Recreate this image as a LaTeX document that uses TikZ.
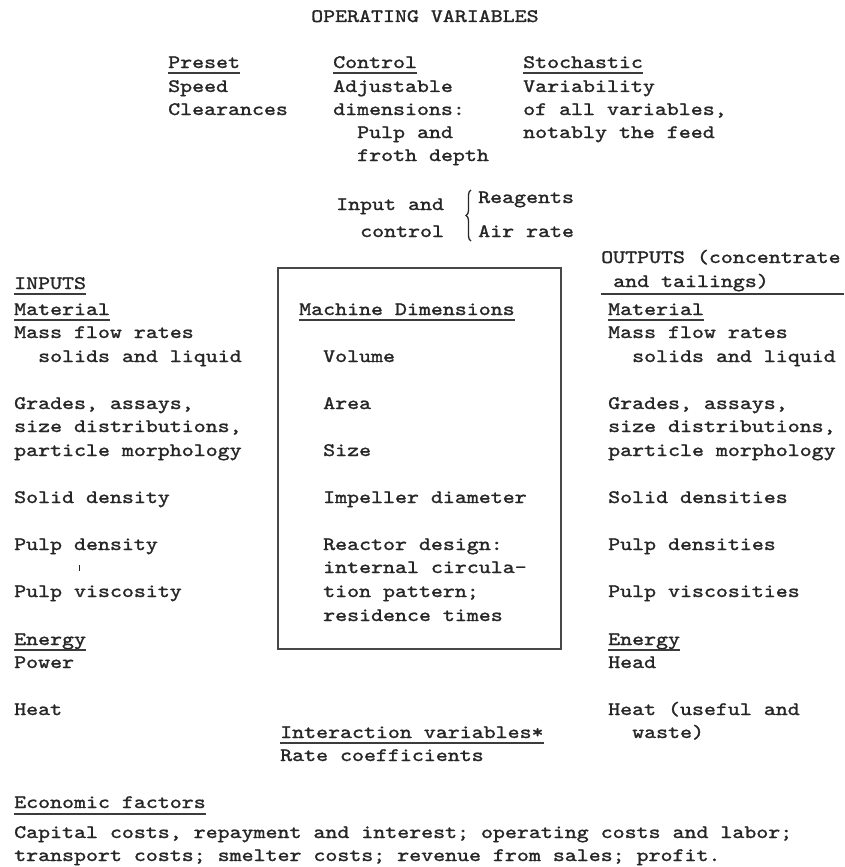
\documentclass[tikz,border=0pt]{standalone}
\usepackage{fontspec}
\newfontfamily\tw{lmmono10-regular.otf}[FakeStretch=1.2,FakeBold=1.4]
\usetikzlibrary{decorations.pathreplacing}
\definecolor{ink}{HTML}{262626}
\begin{document}
\begin{tikzpicture}[x=1pt,y=-1pt,
  tx/.style={anchor=base west, inner sep=0pt, font=\tw\fontsize{19}{23}\selectfont, text=ink},
  ul/.style={draw=ink!90, line width=1.2pt},
  boxst/.style={draw=ink!85, line width=1.6pt, anchor=north west, inner sep=0pt, minimum width=283pt, minimum height=381pt}]
\useasboundingbox (0,0) rectangle (844,867);
\fill[white] (0,0) rectangle (844,867);
% title
\node[tx] (ov) at (311,22) {OPERATING VARIABLES};
% top columns
\node[tx] (pre) at (168,68) {Preset};
\node[tx] (spd) at (168,92) {Speed};
\node[tx] (clr) at (168,115) {Clearances};
\node[tx] (ctl) at (333,68) {Control};
\node[tx] (adj) at (333,92) {Adjustable};
\node[tx] (dim) at (333,115) {dimensions:};
\node[tx] (pul) at (357,138) {Pulp and};
\node[tx] (fro) at (357,161) {froth depth};
\node[tx] (sto) at (523,68) {Stochastic};
\node[tx] (var) at (523,92) {Variability};
\node[tx] (ofa) at (523,115) {of all variables,};
\node[tx] (nob) at (523,138) {notably the feed};
\draw[ul] ([yshift=-5pt]pre.base west) -- ([yshift=-5pt]pre.base east);
\draw[ul] ([yshift=-5pt]ctl.base west) -- ([yshift=-5pt]ctl.base east);
\draw[ul] ([yshift=-5pt]sto.base west) -- ([yshift=-5pt]sto.base east);
% input and control
\node[tx] (ina) at (336,210) {Input and};
\node[tx] (inc) at (360,237) {control};
\node[tx] (rea) at (478,203) {Reagents};
\node[tx] (air) at (478,237) {Air rate};
\coordinate (bt) at (471,190);
\coordinate (bb) at (471,241);
\draw[ink, line width=1.3pt, decorate, decoration={brace, amplitude=5pt}] (bb) -- (bt);
% box
\node[boxst] (box) at (277,267) {};
\node[tx] (md) at (299,315) {Machine Dimensions};
\draw[ul] ([yshift=-5pt]md.base west) -- ([yshift=-5pt]md.base east);
\node[tx] (vol) at (323,362) {Volume};
\node[tx] (are) at (323,409) {Area};
\node[tx] (siz) at (323,456) {Size};
\node[tx] (imp) at (323,503) {Impeller diameter};
\node[tx] (rd1) at (323,550) {Reactor design:};
\node[tx] (rd2) at (323,573) {internal circula-};
\node[tx] (rd3) at (323,597) {tion pattern;};
\node[tx] (rd4) at (323,621) {residence times};
% inputs
\node[tx] (inp) at (14,289) {INPUTS};
\draw[ul] ([yshift=-5pt]inp.base west) -- ([yshift=-5pt]inp.base east);
\node[tx] (mtL) at (14,315) {Material};
\draw[ul] ([yshift=-5pt]mtL.base west) -- ([yshift=-5pt]mtL.base east);
\node[tx] (mfL) at (14,338) {Mass flow rates};
\node[tx] (slL) at (38,362) {solids and liquid};
\node[tx] (grL) at (14,409) {Grades, assays,};
\node[tx] (sdL) at (14,432) {size distributions,};
\node[tx] (pmL) at (14,456) {particle morphology};
\node[tx] (soL) at (14,503) {Solid density};
\node[tx] (pdL) at (14,550) {Pulp density};
\coordinate (mk) at (79,565);
\draw[ink, line width=0.9pt] (mk) -- ++(0,6);
\node[tx] (pvL) at (14,597) {Pulp viscosity};
\node[tx] (enL) at (14,645) {Energy};
\draw[ul] ([yshift=-5pt]enL.base west) -- ([yshift=-5pt]enL.base east);
\node[tx] (pwL) at (14,668) {Power};
\node[tx] (htL) at (14,715) {Heat};
% outputs
\node[tx] (out) at (601,263) {OUTPUTS (concentrate};
\node[tx] (tai) at (613,287) {and tailings)};
\coordinate (rl) at (601,294);
\coordinate (rr) at (844,294);
\draw[ul] (rl) -- (rr);
\node[tx] (mtR) at (608,315) {Material};
\draw[ul] ([yshift=-5pt]mtR.base west) -- ([yshift=-5pt]mtR.base east);
\node[tx] (mfR) at (608,338) {Mass flow rates};
\node[tx] (slR) at (632,362) {solids and liquid};
\node[tx] (grR) at (608,409) {Grades, assays,};
\node[tx] (sdR) at (608,432) {size distributions,};
\node[tx] (pmR) at (608,456) {particle morphology};
\node[tx] (soR) at (608,503) {Solid densities};
\node[tx] (pdR) at (608,550) {Pulp densities};
\node[tx] (pvR) at (608,597) {Pulp viscosities};
\node[tx] (enR) at (608,645) {Energy};
\draw[ul] ([yshift=-5pt]enR.base west) -- ([yshift=-5pt]enR.base east);
\node[tx] (hdR) at (608,668) {Head};
\node[tx] (htR) at (608,715) {Heat (useful and};
\node[tx] (wsR) at (632,738) {waste)};
% interaction
\node[tx] (iv) at (280,738) {Interaction variables*};
\draw[ul] ([yshift=-5pt]iv.base west) -- ([yshift=-5pt]iv.base east);
\node[tx] (rc) at (280,761) {Rate coefficients};
% economic
\node[tx] (ec) at (14,808) {Economic factors};
\draw[ul] ([yshift=-6pt]ec.base west) -- ([yshift=-6pt]ec.base east);
\node[tx] (c1) at (14,838) {Capital costs, repayment and interest; operating costs and labor;};
\node[tx] (c2) at (14,861) {transport costs; smelter costs; revenue from sales; profit.};
\end{tikzpicture}
\end{document}
